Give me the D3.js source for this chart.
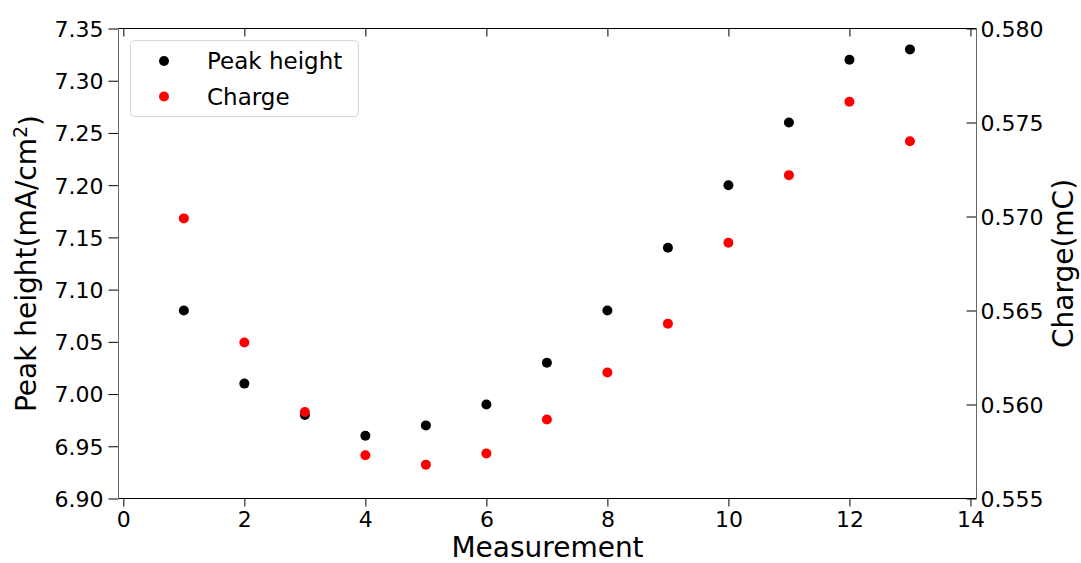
<!DOCTYPE html>
<html>
<head>
<meta charset="utf-8">
<script src="https://cdn.jsdelivr.net/npm/d3@7"></script>
<style>
  html, body { margin: 0; padding: 0; background: #fff; }
  svg { display: block; }
  svg text { font-family: "DejaVu Sans", sans-serif; }
</style>
</head>
<body>
<svg id="chart" width="1081" height="563"></svg>
<script>
// ---- data ----
const measurements = [1, 2, 3, 4, 5, 6, 7, 8, 9, 10, 11, 12, 13];
const peakHeight = [7.08, 7.01, 6.98, 6.96, 6.97, 6.99, 7.03, 7.08, 7.14, 7.20, 7.26, 7.32, 7.33];
const charge = [0.5699, 0.5633, 0.5596, 0.5573, 0.5568, 0.5574, 0.5592, 0.5617, 0.5643, 0.5686, 0.5722, 0.5761, 0.5740];
const xTicks = [0, 2, 4, 6, 8, 10, 12, 14];
const leftTicks = [6.90, 6.95, 7.00, 7.05, 7.10, 7.15, 7.20, 7.25, 7.30, 7.35];
const rightTicks = [0.555, 0.560, 0.565, 0.570, 0.575, 0.580];
const seriesNames = ["Peak height", "Charge"];
const seriesColors = ["#000000", "#ff0000"];

// ---- layout ----
const L = 118.5, R = 976.5, T = 28.5, B = 498.5;
const FONT = "DejaVu Sans, sans-serif";
const svg = d3.select("#chart");

const x = d3.scaleLinear().domain([-0.08, 14.1]).range([L, R]);
const yL = d3.scaleLinear().domain([6.90, 7.35]).range([B, T]);
const yR = d3.scaleLinear().domain([0.555, 0.580]).range([B, T]);

const fs = 22;

function styleAxis(g) {
  g.attr("font-family", FONT).attr("font-size", fs);
  g.select(".domain").remove();
  g.selectAll("text").attr("fill", "#000").style("font-family", FONT).style("font-size", fs + "px");
  g.selectAll("line").attr("stroke", "#000").attr("stroke-width", 1);
}

// bottom axis (ticks outward)
const xAxis = svg.append("g").attr("transform", `translate(0,${B})`)
  .call(d3.axisBottom(x).tickValues(xTicks).tickFormat(d3.format("d")).tickSizeOuter(0).tickSizeInner(8).tickPadding(5));
styleAxis(xAxis);

// top ticks (inward)
const xTop = svg.append("g").attr("transform", `translate(0,${T})`)
  .call(d3.axisBottom(x).tickValues(xTicks).tickFormat("").tickSizeOuter(0).tickSizeInner(8));
styleAxis(xTop);

// left axis (ticks outward)
const yAxisL = svg.append("g").attr("transform", `translate(${L},0)`)
  .call(d3.axisLeft(yL).tickValues(leftTicks).tickFormat(d3.format(".2f")).tickSizeOuter(0).tickSizeInner(10).tickPadding(5));
styleAxis(yAxisL);
yAxisL.selectAll("text").attr("dy", "0.36em");

// right axis (ticks inward, labels outside)
const yAxisR = svg.append("g").attr("transform", `translate(${R},0)`)
  .call(d3.axisRight(yR).tickValues(rightTicks).tickFormat(d3.format(".3f")).tickSizeOuter(0).tickSizeInner(0).tickPadding(4));
styleAxis(yAxisR);
yAxisR.selectAll("text").attr("dy", "0.36em");
yAxisR.selectAll(".tick").append("line").attr("x1", -10).attr("x2", 0).attr("stroke", "#000").attr("stroke-width", 1);

// spines
svg.append("line").attr("x1", L).attr("x2", R).attr("y1", T).attr("y2", T).attr("stroke", "#000").attr("stroke-width", 1);
svg.append("line").attr("x1", L).attr("x2", R).attr("y1", B).attr("y2", B).attr("stroke", "#000").attr("stroke-width", 1);
svg.append("line").attr("x1", L).attr("x2", L).attr("y1", T).attr("y2", B).attr("stroke", "#666").attr("stroke-width", 1);
svg.append("line").attr("x1", R).attr("x2", R).attr("y1", T).attr("y2", B).attr("stroke", "#666").attr("stroke-width", 1);

// points
const r = 5;
svg.append("g").selectAll("circle").data(measurements).join("circle")
  .attr("cx", (d) => x(d)).attr("cy", (d, i) => yL(peakHeight[i])).attr("r", r).attr("fill", seriesColors[0]);
svg.append("g").selectAll("circle").data(measurements).join("circle")
  .attr("cx", (d) => x(d)).attr("cy", (d, i) => yR(charge[i])).attr("r", r).attr("fill", seriesColors[1]);

// axis labels
svg.append("text").attr("x", (L + R) / 2).attr("y", 557).attr("text-anchor", "middle")
  .style("font-size", "28px").attr("fill", "#000").text("Measurement");

const yl = svg.append("text").attr("transform", `translate(36,${(T + B) / 2}) rotate(-90)`)
  .attr("text-anchor", "middle").style("font-size", "28px").attr("fill", "#000");
yl.append("tspan").text("Peak height(mA/cm");
yl.append("tspan").attr("dy", "-0.45em").style("font-size", "19px").text("2");
yl.append("tspan").attr("dy", "0.45em").text(")");

svg.append("text").attr("transform", `translate(1073,${(T + B) / 2}) rotate(-90)`)
  .attr("text-anchor", "middle").style("font-size", "28px").attr("fill", "#000").text("Charge(mC)");

// legend
const lg = svg.append("g");
lg.append("rect").attr("x", 130.5).attr("y", 40.5).attr("width", 228).attr("height", 76).attr("rx", 4)
  .attr("fill", "#fff").attr("fill-opacity", 0.8).attr("stroke", "#d6d6d6").attr("stroke-width", 1);
const items = lg.selectAll("g.item").data(seriesNames).join("g").attr("class", "item")
  .attr("transform", (d, i) => `translate(164,${61 + i * 35.5})`);
items.append("circle").attr("r", r).attr("fill", (d, i) => seriesColors[i]);
items.append("text").attr("x", 43).attr("dy", "0.36em").style("font-size", "23px").attr("fill", "#000").text((d) => d);
</script>
</body>
</html>
